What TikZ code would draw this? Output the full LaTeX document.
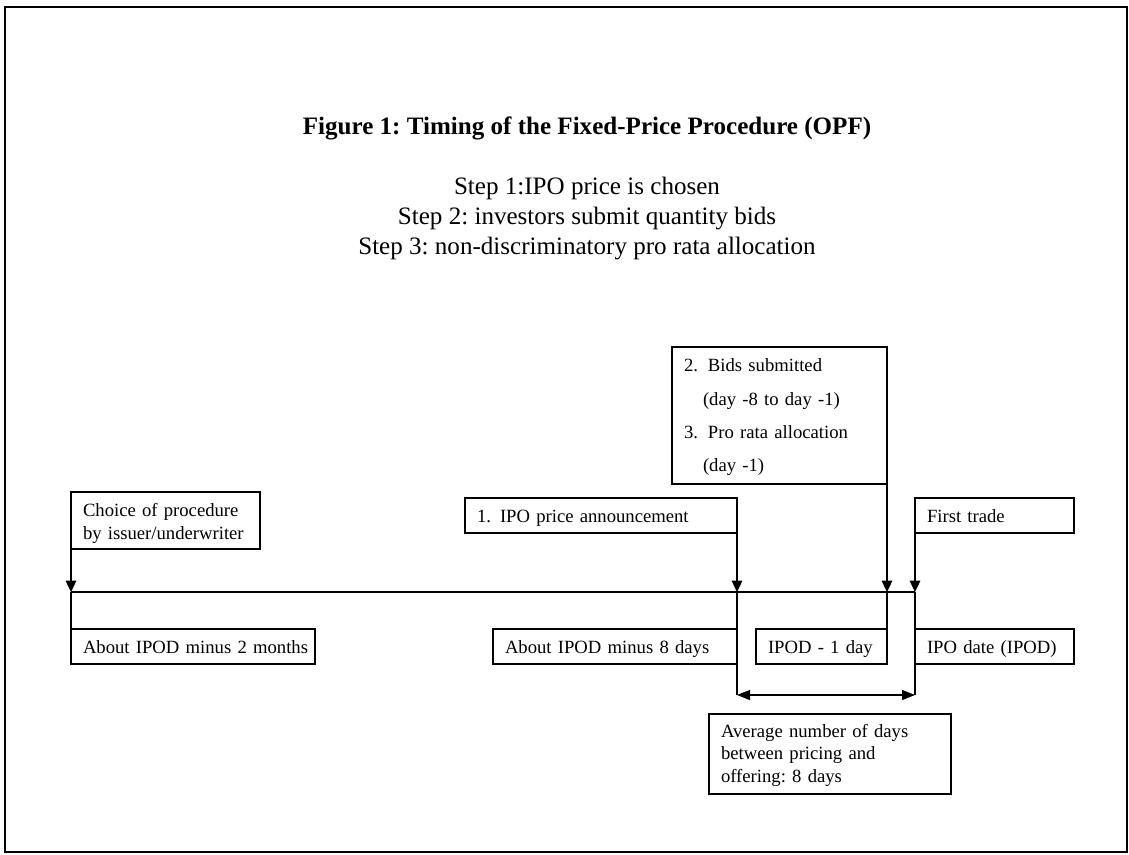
\documentclass[tikz,border=0pt]{standalone}
\usepackage{fontspec}
\setmainfont{Liberation Serif}
\usetikzlibrary{arrows.meta}
\frenchspacing
\begin{document}
\begin{tikzpicture}[x=0.75pt,y=-0.75pt,
  box/.style={draw, line width=0.8pt, outer sep=0pt, inner xsep=9pt, inner ysep=0pt,
    anchor=north west, align=left, font=\fontsize{14}{17.25}\selectfont},
  one/.style={box, minimum height=26.25pt, text height=9.8pt, text depth=0pt},
  conn/.style={line width=0.8pt},
  arr/.style={conn, -{Triangle[width=8pt,length=8.5pt]}},
  darr/.style={conn, {Triangle[width=7.5pt,length=9.75pt]}-{Triangle[width=7.5pt,length=9.75pt]}},
  heading/.style={anchor=base, font=\fontsize{18.8}{22.5}\selectfont}
]
\useasboundingbox (0,0) rectangle (1129,854);
\draw[line width=1.5pt] (5,7) rectangle (1127,852);

\node[heading, font=\fontsize{18.8}{22.5}\selectfont\bfseries] (title) at (587,134)
  {Figure 1: Timing of the Fixed-Price Procedure (OPF)};
\node[heading] (s1) at (587,194) {Step 1:IPO price is chosen};
\node[heading] (s2) at (587,224) {Step 2: investors submit quantity bids};
\node[heading] (s3) at (587,254) {Step 3: non-discriminatory pro rata allocation};

\node[box, text width=123.75pt, minimum height=42.75pt, text height=10.5pt, text depth=17.25pt]
  (choice) at (71,492) {\mbox{Choice of procedure}\\\mbox{by issuer/underwriter}};
\node[one, text width=165pt] (m2) at (71,629) {\mbox{About IPOD minus 2 months}};
\node[one, text width=186pt] (ann) at (465,498) {\mbox{\makebox[17.25pt][l]{1.}IPO price announcement}};
\node[one, text width=165pt] (m8) at (493,629) {\mbox{About IPOD minus 8 days}};
\node[one, text width=80.25pt] (d1) at (756,629) {\mbox{IPOD - 1 day}};
\node[one, text width=101.25pt] (ft) at (915,498) {\mbox{First trade}};
\node[one, text width=101.25pt] (ipod) at (915,629) {\mbox{IPO date (IPOD)}};
\node[box, text width=143.25pt, minimum height=102.75pt, text height=9.3pt, text depth=75pt,
  font=\fontsize{14}{25}\selectfont]
  (bids) at (672,347) {\mbox{\makebox[18pt][l]{2.}Bids submitted}\\
    \mbox{\hspace*{14.25pt}(day -8 to day -1)}\\
    \mbox{\makebox[18pt][l]{3.}Pro rata allocation}\\
    \mbox{\hspace*{14.25pt}(day -1)}};
\node[box, text width=163.5pt, minimum height=60pt, text height=8.8pt, text depth=33.8pt,
  font=\fontsize{14}{16.9}\selectfont]
  (avg) at (709,714) {\mbox{Average number of days}\\\mbox{between pricing and}\\\mbox{offering: 8 days}};

\coordinate (t1) at (71,592);
\coordinate (t2) at (737,592);
\coordinate (t3) at (887,592);
\coordinate (t4) at (915,592);
\coordinate (dl) at (737,695);
\coordinate (dr) at (915,695);

\draw[conn] (t1) -- (t4);
\draw[arr] (choice.south west) -- (t1);
\draw[conn] (t1) -- (m2.north west);
\draw[arr] (ann.south east) -- (t2);
\draw[conn] (t2) -- (dl);
\draw[arr] (bids.south east) -- (t3);
\draw[conn] (t3) -- (d1.north east);
\draw[arr] (ft.south west) -- (t4);
\draw[conn] (t4) -- (dr);
\draw[darr] (dl) -- (dr);
\end{tikzpicture}
\end{document}
